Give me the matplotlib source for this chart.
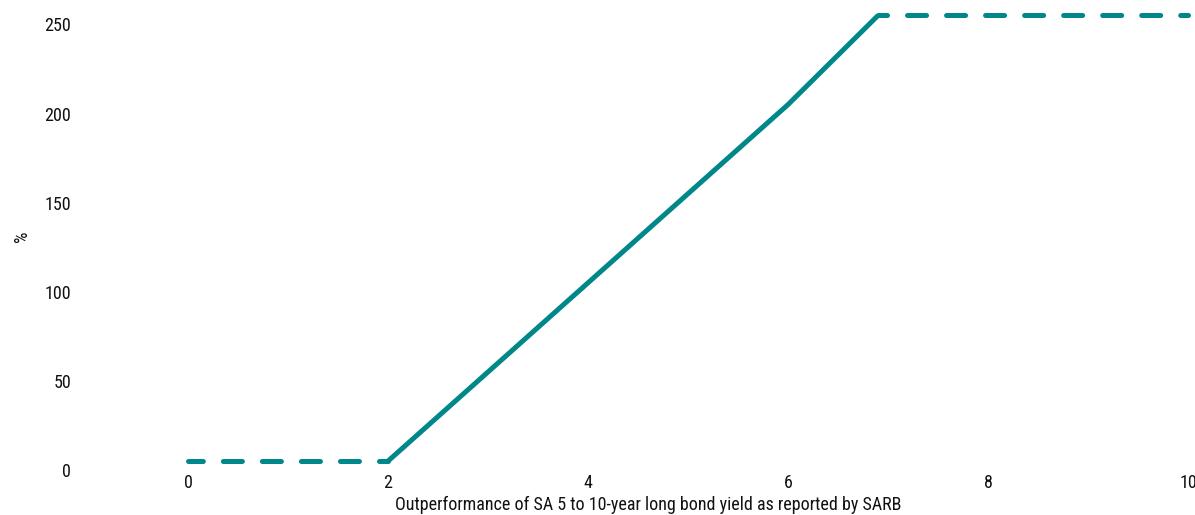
import matplotlib
matplotlib.use("Agg")
import matplotlib.pyplot as plt
from matplotlib import font_manager

# Prefer a narrow sans face when one is available
installed = {f.name for f in font_manager.fontManager.ttflist}
narrow = [n for n in ['Roboto Condensed', 'Liberation Sans Narrow', 'Open Sans Condensed',
                      'Noto Sans Condensed', 'DejaVu Sans Condensed'] if n in installed]
plt.rcParams['font.family'] = narrow + ['DejaVu Sans']
plt.rcParams['font.stretch'] = 'condensed'
plt.rcParams['lines.scale_dashes'] = False

# Payout schedule: floor, linear ramp, cap
floor_x = [2, 0]
floor_y = [5, 5]
ramp_x = [2, 6, 6.9]
ramp_y = [5, 205, 255]
cap_x = [6.9, 10]
cap_y = [255, 255]

x_ticks = [0, 2, 4, 6, 8, 10]
y_ticks = [0, 50, 100, 150, 200, 250]

color = '#00878A'
lw = 3.6
dash = (7.2, (13.7, 14.4))

fig = plt.figure(figsize=(11.95, 5.15), dpi=100)
ax = fig.add_axes([88 / 1195, 45 / 515, 1120 / 1195, 467 / 515])

ax.plot(floor_x, floor_y, color=color, lw=lw, linestyle=dash,
        dash_capstyle='round', solid_capstyle='round')
ax.plot(ramp_x, ramp_y, color=color, lw=lw, solid_capstyle='butt',
        solid_joinstyle='miter')
ax.plot(cap_x, cap_y, color=color, lw=lw, linestyle=dash,
        dash_capstyle='round')

ax.set_xlim(-1, 10.2)
ax.set_ylim(0, 262)
ax.set_xticks(x_ticks)
ax.set_yticks(y_ticks)
ax.set_xticklabels([str(v) for v in x_ticks])
ax.set_yticklabels([str(v) for v in y_ticks])
ax.tick_params(axis='both', length=0, labelsize=13, colors='#111111')
ax.tick_params(axis='y', pad=12)
ax.tick_params(axis='x', pad=3)

for s in ax.spines.values():
    s.set_visible(False)

ax.set_xlabel('Outperformance of SA 5 to 10-year long bond yield as reported by SARB',
              fontsize=13, color='#111111', labelpad=3)
ax.set_ylabel('%', fontsize=13, color='#111111', labelpad=10)

fig.savefig('out.png', dpi=100)
